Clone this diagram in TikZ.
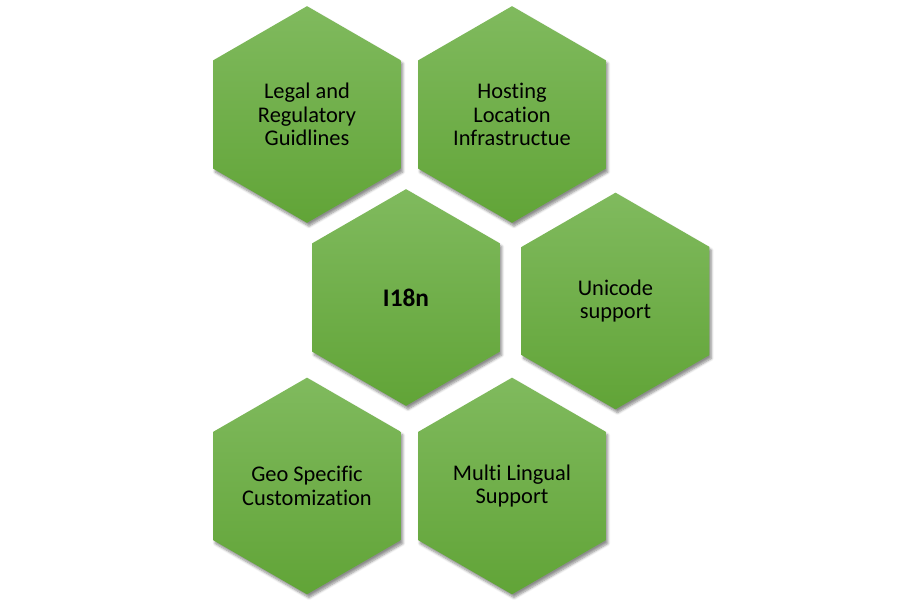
\documentclass[tikz,border=0pt]{standalone}
\usepackage{fontspec}
\setmainfont{Carlito}[Ligatures=NoCommon]
\usetikzlibrary{shapes.geometric,shadows.blur}
\definecolor{hexlight}{RGB}{128,186,94}
\definecolor{hexdark}{RGB}{97,164,55}

\begin{document}
\begin{tikzpicture}[x=0.75pt,y=-0.75pt,
hexcell/.style = {regular polygon, regular polygon sides=6, shape border rotate=30,
                  minimum size=162.5pt, inner sep=0pt, top color=hexlight,
                  bottom color=hexdark, align=center,
                  font=\fontsize{16.8}{17.8}\selectfont,
                  blur shadow={shadow xshift=1.5pt, shadow yshift=-2.5pt,
                               shadow blur steps=6, shadow opacity=45}},
hub/.style = {hexcell, font=\fontsize{19}{21}\selectfont\bfseries}]
\useasboundingbox (0,0) rectangle (924,606);

% top row
\node [hexcell] (legal) at (307,114.5) {Legal and\\Regulatory\\Guidlines};
\node [hexcell] (hosting) at (512,114.5) {Hosting\\Location\\Infrastructue};
% middle row
\node [hub] (i18n) at (406,297.5) {I18n};
\node [hexcell] (unicode) at (615.5,301) {Unicode\\support};
% bottom row
\node [hexcell] (geo) at (307,486) {Geo Specific\\Customization};
\node [hexcell] (multi) at (512,486) {Multi Lingual\\Support};
\end{tikzpicture}
\end{document}
